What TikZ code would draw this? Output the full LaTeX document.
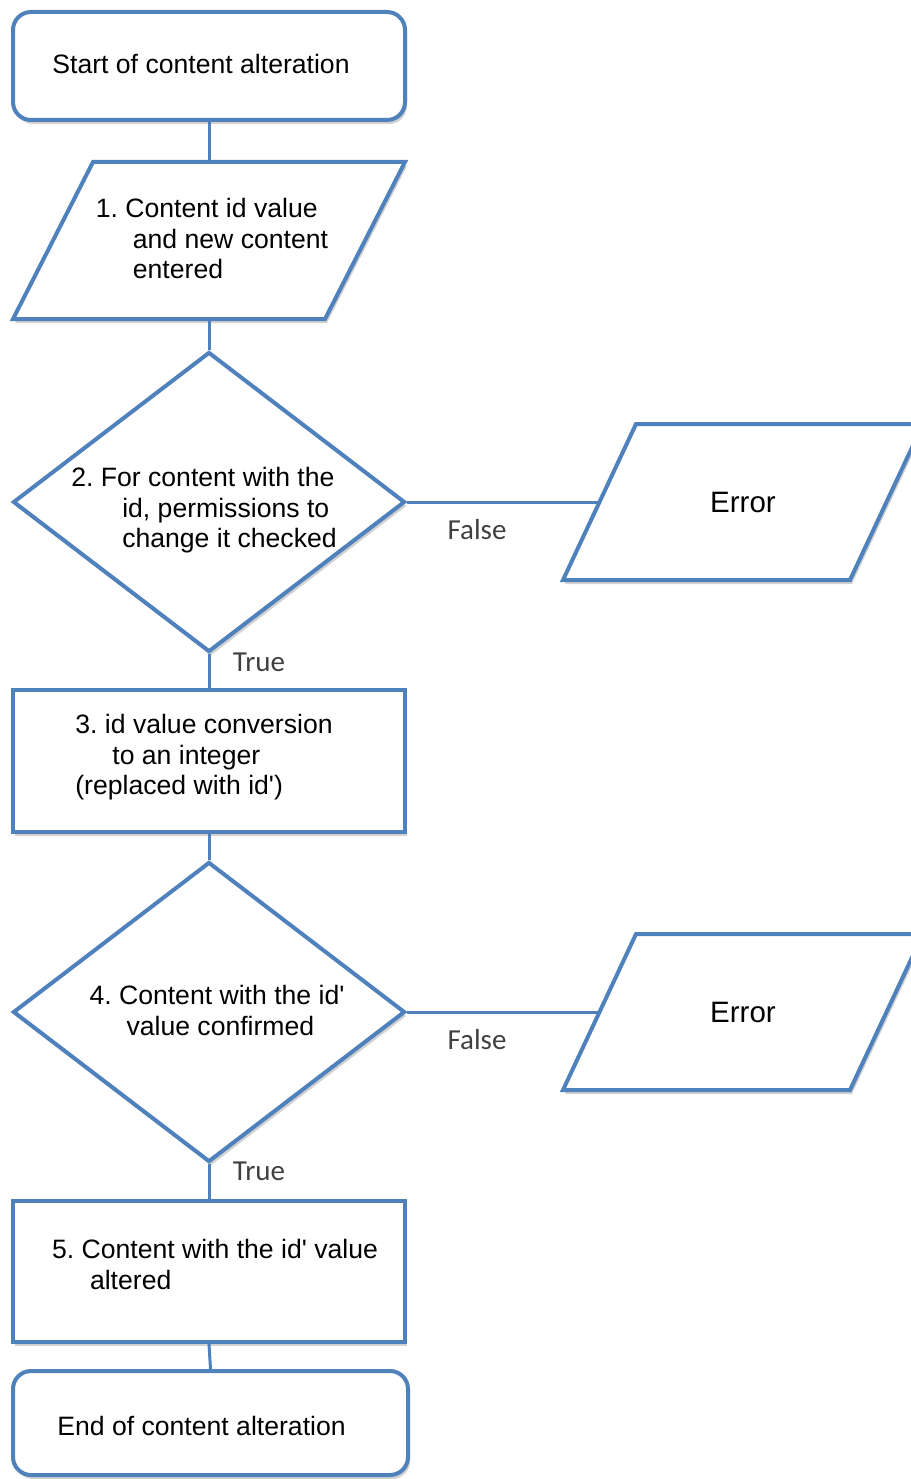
\documentclass[tikz,border=0pt]{standalone}
\usepackage{fontspec}
\setmainfont{Liberation Sans}
\newfontfamily\labelfont{Carlito}
\usetikzlibrary{shapes.geometric,shadows,backgrounds}
\definecolor{flowblue}{HTML}{4F81BD}
\definecolor{labelgray}{HTML}{404040}
% text block moved by (#1 right, #2 up) inside its node, node size unchanged
\newcommand\nudged[3]{\hspace*{#1}\raisebox{#2}[\height][\depth]{\begin{tabular}{@{}l@{}}#3\end{tabular}}\hspace*{-#1}}

\begin{document}
\frenchspacing
\begin{tikzpicture}[x=1pt,y=-1pt,
  outline/.style={draw=flowblue, line width=4pt, fill=white,
    drop shadow={shadow xshift=2pt, shadow yshift=-4pt, opacity=0.3, fill=black!60}},
  boxtext/.style={inner sep=0pt, align=left, font=\fontsize{26.6}{30.7}\selectfont},
  base/.style={outline, boxtext},
  terminal/.style={base, rectangle, rounded corners=18pt, minimum width=392pt, minimum height=108pt},
  process/.style={base, rectangle, minimum width=392pt, minimum height=142pt},
  decision/.style={base, diamond, aspect=1.3, minimum width=392pt, minimum height=300pt},
  % body of a slanted data box; the outline itself is drawn on the background layer
  iobody/.style={boxtext, rectangle, draw=none, outer sep=0pt},
  errbody/.style={iobody, align=center, minimum width=287pt, minimum height=156pt,
    font=\fontsize{29.5}{34}\selectfont},
  flow/.style={draw=flowblue, line width=3pt},
  branch/.style={font=\labelfont\fontsize{29}{33}\selectfont, text=labelgray, inner sep=0pt}
]
\useasboundingbox (0,0) rectangle (910,1479);

% main column
\node[terminal] (start) at (209,66) {\nudged{-8pt}{-1pt}{Start of content alteration}};
\node[iobody, minimum width=312pt, minimum height=157pt] (input) at (209,240.5)
  {\nudged{3pt}{-1.5pt}{1. Content id value\\\hspace*{37pt}and new content\\\hspace*{37pt}entered}};
\node[decision] (perm) at (209,502)
  {\nudged{-5pt}{-9pt}{2. For content with the\\\hspace*{51pt}id, permissions to\\\hspace*{51pt}change it checked}};
\node[process] (conv) at (209,761)
  {\nudged{-5pt}{3pt}{3. id value conversion\\\hspace*{37pt}to an integer\\(replaced with id\textquotesingle)}};
\node[decision] (confirm) at (209,1012)
  {\nudged{8pt}{-2pt}{4. Content with the id\textquotesingle\\\hspace*{37pt}value confirmed}};
\node[process, minimum height=141pt] (alter) at (209,1271.5)
  {\nudged{6pt}{3.5pt}{5. Content with the id\textquotesingle{} value\\\hspace*{38pt}altered}};
\node[terminal, minimum width=395pt, minimum height=104pt] (finish) at (210.5,1423)
  {\nudged{-9pt}{-6pt}{End of content alteration}};

% error outputs
\node[errbody] (err1) at (743,502) {Error};
\node[errbody] (err2) at (743,1012) {Error};

% slanted outlines of the data boxes
\begin{scope}[on background layer]
  \draw[outline] ([xshift=40pt]input.north west) -- ([xshift=40pt]input.north east)
    -- ([xshift=-40pt]input.south east) -- ([xshift=-40pt]input.south west) -- cycle;
  \foreach \e in {err1,err2}
    \draw[outline] ([xshift=36.5pt]\e.north west) -- ([xshift=36.5pt]\e.north east)
      -- ([xshift=-36.5pt]\e.south east) -- ([xshift=-36.5pt]\e.south west) -- cycle;
\end{scope}

% connectors
\draw[flow] (start.south) -- (input.north);
\draw[flow] (input.south) -- (perm.north);
\draw[flow] (perm.south) -- (conv.north);
\draw[flow] (conv.south) -- (confirm.north);
\draw[flow] (confirm.south) -- (alter.north);
\draw[flow] (alter.south) -- (finish.north);
\draw[flow] (perm.east) -- (err1.west);
\draw[flow] (confirm.east) -- (err2.west);

% branch labels
\node[branch] (false1) at (477,530) {False};
\node[branch] (true1) at (259,662) {True};
\node[branch] (false2) at (477,1040) {False};
\node[branch] (true2) at (259,1171) {True};
\end{tikzpicture}
\end{document}
